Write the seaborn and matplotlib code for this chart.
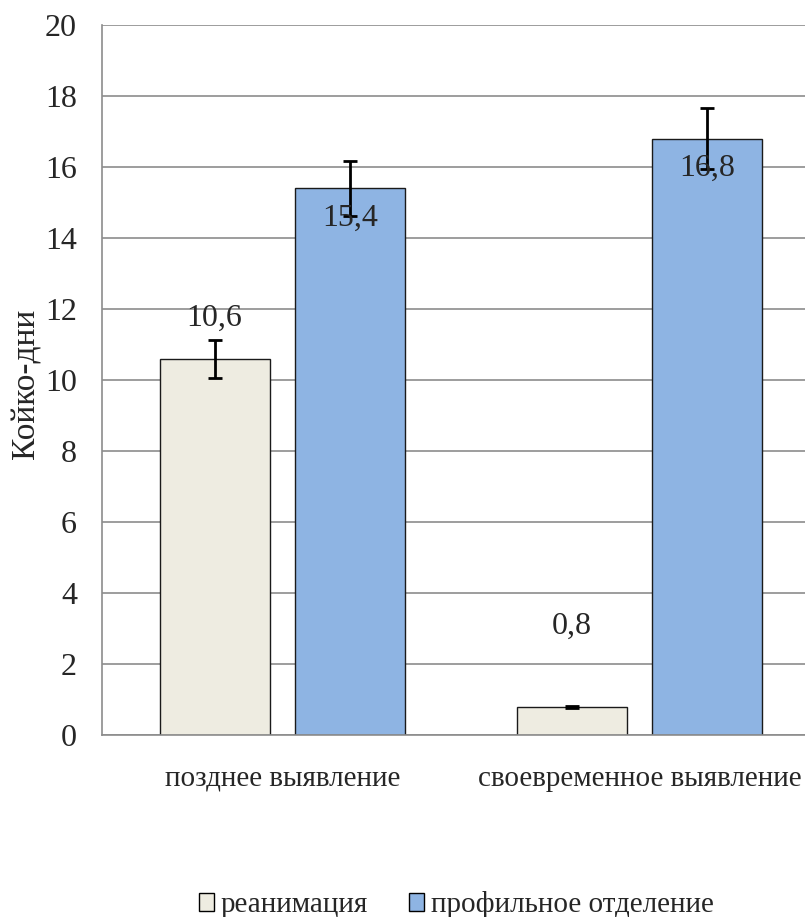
import numpy as np
import pandas as pd
import seaborn as sns
import matplotlib.pyplot as plt
from matplotlib.patches import Patch

# Данные диаграммы
categories = ["позднее выявление", "своевременное выявление"]
groups = ["реанимация", "профильное отделение"]
reanim = [10.6, 0.8]
profile = [15.4, 16.8]
reanim_err = [0.54, 0.03]
profile_err = [0.77, 0.86]
label_text = [["10,6", "0,8"], ["15,4", "16,8"]]

colors = ["#EEECE1", "#8EB4E3"]
label_dy = [[1.15, 2.25], [-0.85, -0.85]]  # сдвиг подписей как в Excel

df = pd.DataFrame({
    "категория": categories * 2,
    "отделение": [groups[0]] * 2 + [groups[1]] * 2,
    "значение": reanim + profile,
})
errors = [reanim_err, profile_err]

sns.set_theme(style="white")
plt.rcParams["font.family"] = ["Liberation Serif", "DejaVu Serif"]

fig = plt.figure(figsize=(8.05, 9.17), dpi=100)
ax = fig.add_axes([102 / 805, 1 - 735 / 917, 1 - 102 / 805, 710 / 917])

sns.barplot(data=df, x="категория", y="значение", hue="отделение",
            palette=colors, saturation=1, width=0.76, gap=0.19, errorbar=None,
            edgecolor="#1a1a1a", linewidth=1.0, legend=False, ax=ax)

# усы погрешностей и подписи значений
bar_groups = list(ax.containers)
for i, cont in enumerate(bar_groups):
    xs = [b.get_x() + b.get_width() / 2 for b in cont]
    hs = [b.get_height() for b in cont]
    ax.errorbar(xs, hs, yerr=errors[i], fmt="none", ecolor="black",
                elinewidth=2, capsize=4.7, capthick=2, zorder=5)
    for j, (x, h) in enumerate(zip(xs, hs)):
        ax.text(x, h + label_dy[i][j], label_text[i][j], ha="center",
                va="center", fontsize=23, zorder=6)

ax.set_ylim(0, 20)
ax.set_yticks(np.arange(0, 21, 2))
ax.set_xlim(-0.5056, 1.4636)
ax.yaxis.grid(True, color="#8c8c8c", linewidth=1.2)
ax.set_axisbelow(True)
for s in ["top", "right"]:
    ax.spines[s].set_visible(False)
for s in ["left", "bottom"]:
    ax.spines[s].set_color("#8c8c8c")
    ax.spines[s].set_linewidth(1.2)
ax.tick_params(axis="y", length=0, labelsize=23, pad=18)
ax.tick_params(axis="x", length=0, labelsize=21, pad=22)
ax.set_xlabel("")
ax.set_ylabel("Койко-дни", fontsize=24)
ax.yaxis.set_label_coords(-0.0855, 0.495)

handles = [Patch(facecolor=c, edgecolor="black", linewidth=1) for c in colors]
fig.legend(handles, groups, loc="center", bbox_to_anchor=(0.567, 1 - 905 / 917),
           ncol=2, frameon=False, fontsize=21, handlelength=0.5,
           handleheight=0.55, handletextpad=0.25, columnspacing=1.4)

fig.savefig("out.png", dpi=100)
